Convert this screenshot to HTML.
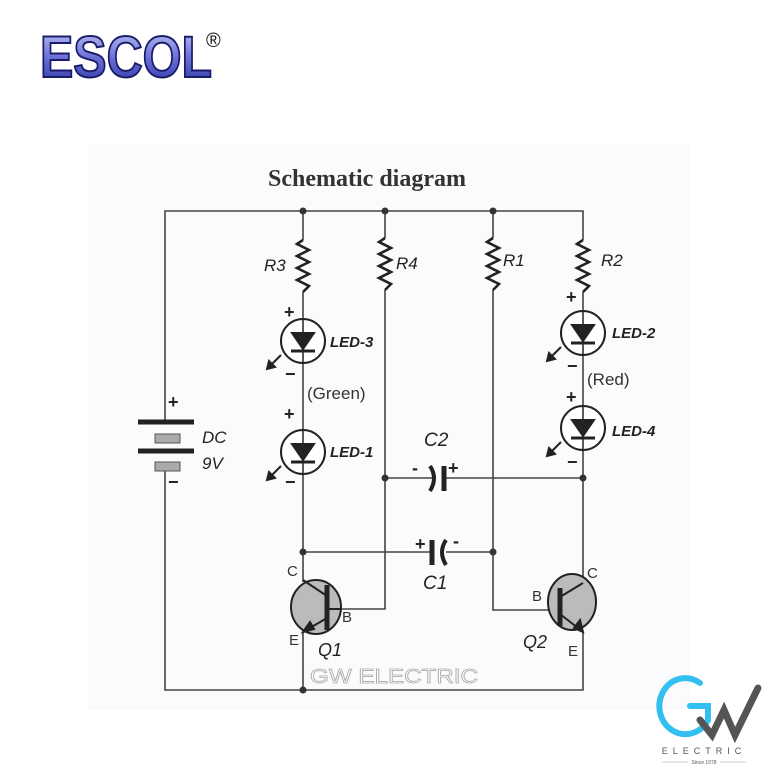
<!DOCTYPE html>
<html><head><style>
html,body{margin:0;padding:0;background:#fff;width:768px;height:768px;overflow:hidden}
svg{display:block}
</style></head><body>
<svg width="768" height="768" viewBox="0 0 768 768" xmlns="http://www.w3.org/2000/svg">
<defs>
<linearGradient id="eg" x1="0" y1="0" x2="0" y2="1">
<stop offset="0" stop-color="#c8ccf4"/><stop offset="0.5" stop-color="#6a70d8"/><stop offset="1" stop-color="#2a2e9a"/>
</linearGradient>
</defs>
<rect x="88" y="145" width="602" height="565" fill="#fbfafc"/>
<!-- ESCOL logo -->
<text x="40" y="77" font-family="Liberation Sans, sans-serif" font-weight="bold" font-size="58" fill="url(#eg)" stroke="#1a1c6a" stroke-width="2" textLength="172" lengthAdjust="spacingAndGlyphs">ESCOL</text>
<text x="206" y="47" font-family="Liberation Sans, sans-serif" font-size="20" fill="#111">®</text>

<text x="367" y="186" text-anchor="middle" font-family="Liberation Serif, serif" font-weight="bold" font-size="24" fill="#333">Schematic diagram</text>

<g stroke="#444" stroke-width="1.6" fill="none">
<polyline points="165,422 165,211 583,211 583,240"/>
<polyline points="165,468 165,690 583,690 583,632"/>
<line x1="303" y1="211" x2="303" y2="240"/>
<line x1="303" y1="292" x2="303" y2="582"/>
<line x1="303" y1="632" x2="303" y2="690"/>
<line x1="385" y1="211" x2="385" y2="238"/>
<polyline points="385,290 385,609 337,609"/>
<line x1="493" y1="211" x2="493" y2="238"/>
<polyline points="493,290 493,610 548,610"/>
<line x1="583" y1="292" x2="583" y2="583"/>
<line x1="385" y1="478" x2="432" y2="478"/>
<line x1="446" y1="478" x2="583" y2="478"/>
<line x1="303" y1="552" x2="432" y2="552"/>
<line x1="446" y1="552" x2="493" y2="552"/>
</g>
<g stroke="#222" stroke-width="2.6" fill="none">
<polyline points="303,240 297,244 309,250 297,256 309,262 297,268 309,274 297,280 309,286 303,292"/>
<polyline points="385,238 379,242 391,248 379,254 391,260 379,266 391,272 379,278 391,284 385,290"/>
<polyline points="493,238 487,242 499,248 487,254 499,260 487,266 499,272 487,278 499,284 493,290"/>
<polyline points="583,240 577,244 589,250 577,256 589,262 577,268 589,274 577,280 589,286 583,292"/>
</g>
<g stroke="#222" fill="none">
<line x1="444" y1="466" x2="444" y2="491" stroke-width="5"/>
<path d="M430,466 Q438,478 430,491" stroke-width="4"/>
<line x1="432" y1="540" x2="432" y2="565" stroke-width="5"/>
<path d="M446,540 Q438,552 446,565" stroke-width="4"/>
</g>
<g fill="#333">
<circle cx="303" cy="211" r="3.5"/><circle cx="385" cy="211" r="3.5"/><circle cx="493" cy="211" r="3.5"/>
<circle cx="385" cy="478" r="3.5"/><circle cx="583" cy="478" r="3.5"/>
<circle cx="303" cy="552" r="3.5"/><circle cx="493" cy="552" r="3.5"/>
<circle cx="303" cy="690" r="3.5"/>
</g>
<g stroke="#222" stroke-width="2">
<g transform="translate(303,341)">
<circle r="22" fill="#fff"/><line x1="0" y1="-22" x2="0" y2="22" stroke-width="1.5"/>
<polygon points="-11,-8 11,-8 0,8" fill="#222"/><line x1="-12" y1="10" x2="12" y2="10" stroke-width="3"/>
<line x1="-22" y1="14" x2="-34" y2="26"/><polygon points="-36,28 -34,20 -28,26" fill="#222"/>
</g>
<g transform="translate(303,452)">
<circle r="22" fill="#fff"/><line x1="0" y1="-22" x2="0" y2="22" stroke-width="1.5"/>
<polygon points="-11,-8 11,-8 0,8" fill="#222"/><line x1="-12" y1="10" x2="12" y2="10" stroke-width="3"/>
<line x1="-22" y1="14" x2="-34" y2="26"/><polygon points="-36,28 -34,20 -28,26" fill="#222"/>
</g>
<g transform="translate(583,333)">
<circle r="22" fill="#fff"/><line x1="0" y1="-22" x2="0" y2="22" stroke-width="1.5"/>
<polygon points="-11,-8 11,-8 0,8" fill="#222"/><line x1="-12" y1="10" x2="12" y2="10" stroke-width="3"/>
<line x1="-22" y1="14" x2="-34" y2="26"/><polygon points="-36,28 -34,20 -28,26" fill="#222"/>
</g>
<g transform="translate(583,428)">
<circle r="22" fill="#fff"/><line x1="0" y1="-22" x2="0" y2="22" stroke-width="1.5"/>
<polygon points="-11,-8 11,-8 0,8" fill="#222"/><line x1="-12" y1="10" x2="12" y2="10" stroke-width="3"/>
<line x1="-22" y1="14" x2="-34" y2="26"/><polygon points="-36,28 -34,20 -28,26" fill="#222"/>
</g>
</g>
<g stroke="#222">
<line x1="138" y1="422" x2="194" y2="422" stroke-width="5"/>
<line x1="138" y1="451" x2="194" y2="451" stroke-width="5"/>
</g>
<rect x="155" y="434" width="25" height="9" fill="#aaa" stroke="#555"/>
<rect x="155" y="462" width="25" height="9" fill="#aaa" stroke="#555"/>
<g stroke="#222" stroke-width="2">
<ellipse cx="316" cy="607" rx="25" ry="27" fill="#bbb"/>
<line x1="327" y1="585" x2="327" y2="630" stroke-width="5"/>
<line x1="327" y1="596" x2="303" y2="580"/>
<line x1="327" y1="618" x2="303" y2="632"/>
<polygon points="303,632 310,622 314,629" fill="#222"/>
<line x1="329" y1="609" x2="340" y2="609"/>
<ellipse cx="572" cy="602" rx="24" ry="28" fill="#bbb"/>
<line x1="560" y1="588" x2="560" y2="626" stroke-width="5"/>
<line x1="560" y1="597" x2="583" y2="583"/>
<line x1="560" y1="614" x2="583" y2="632"/>
<polygon points="583,632 574,628 580,620" fill="#222"/>
</g>
<g font-family="Liberation Sans, sans-serif" font-style="italic" font-size="17" fill="#222">
<text x="264" y="271">R3</text><text x="396" y="269">R4</text><text x="503" y="266">R1</text><text x="601" y="266">R2</text>
<text x="330" y="347" font-size="15" font-weight="bold">LED-3</text><text x="330" y="457" font-size="15" font-weight="bold">LED-1</text>
<text x="612" y="338" font-size="15" font-weight="bold">LED-2</text><text x="612" y="436" font-size="15" font-weight="bold">LED-4</text>
<text x="424" y="446" font-size="19">C2</text><text x="423" y="589" font-size="19">C1</text>
<text x="202" y="443">DC</text><text x="202" y="469">9V</text>
<text x="318" y="656" font-size="18">Q1</text><text x="523" y="648" font-size="18">Q2</text>
</g>
<g font-family="Liberation Sans, sans-serif" font-size="15" fill="#333">
<text x="307" y="399" font-size="17">(Green)</text><text x="587" y="385" font-size="17">(Red)</text>
<text x="287" y="576">C</text><text x="289" y="645">E</text><text x="342" y="622">B</text>
<text x="587" y="578">C</text><text x="568" y="656">E</text><text x="532" y="601">B</text>
</g>
<g font-family="Liberation Sans, sans-serif" font-weight="bold" fill="#222" font-size="18">
<text x="284" y="318">+</text><text x="285" y="380">−</text>
<text x="284" y="420">+</text><text x="285" y="488">−</text>
<text x="566" y="303">+</text><text x="567" y="372">−</text>
<text x="566" y="403">+</text><text x="567" y="468">−</text>
<text x="168" y="408">+</text><text x="168" y="488">−</text>
<text x="412" y="474">-</text><text x="448" y="474">+</text>
<text x="415" y="550">+</text><text x="453" y="547">-</text>
</g>
<text x="310" y="683" font-family="Liberation Sans, sans-serif" font-size="20" fill="#fff" stroke="#aaa" stroke-width="0.8" textLength="168" lengthAdjust="spacingAndGlyphs">GW ELECTRIC</text>
<g fill="none" stroke-linecap="round">
<path d="M700,683 A26,28 0 1 0 708,720" stroke="#33c0f0" stroke-width="6"/>
<path d="M708,720 L708,706 L690,706" stroke="#33c0f0" stroke-width="6"/>
<path d="M700,720 L712,735 L724,710 L735,735 L758,688" stroke="#555" stroke-width="7"/>
</g>
<text x="704" y="754" text-anchor="middle" font-family="Liberation Sans, sans-serif" font-size="9" letter-spacing="5" fill="#555">ELECTRIC</text>
<text x="704" y="764" text-anchor="middle" font-family="Liberation Sans, sans-serif" font-size="5" fill="#555">Since 1978</text>
<line x1="662" y1="762" x2="688" y2="762" stroke="#999" stroke-width="0.6"/>
<line x1="720" y1="762" x2="746" y2="762" stroke="#999" stroke-width="0.6"/>
</svg>
</body></html>
